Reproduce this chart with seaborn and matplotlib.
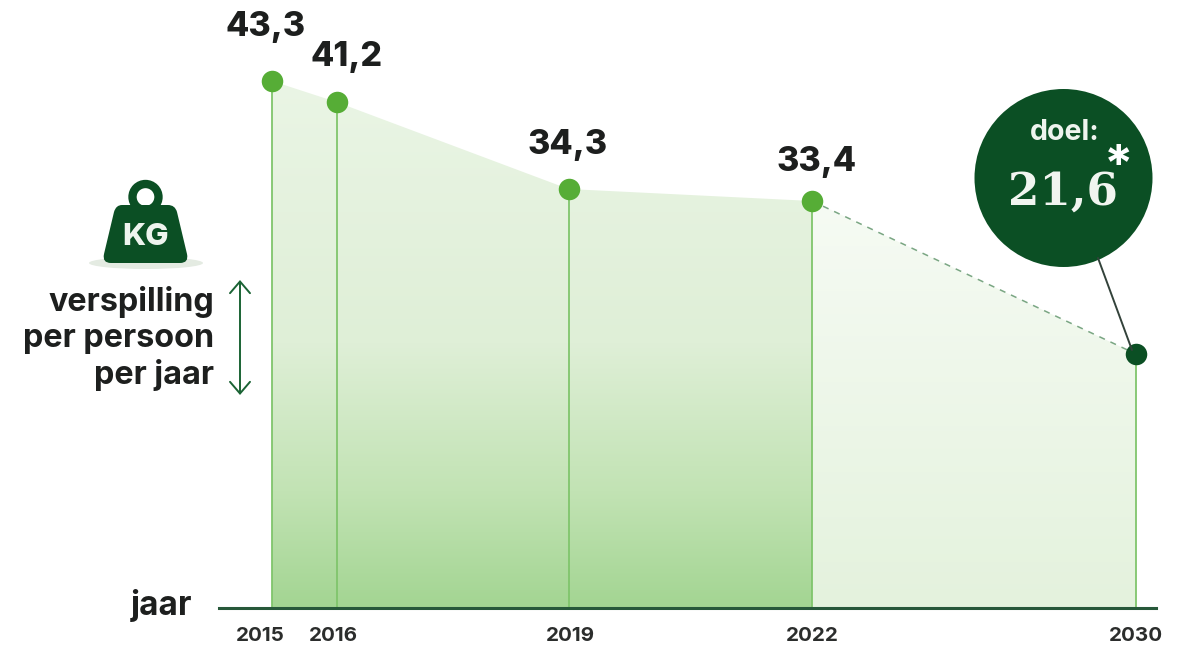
import numpy as np
import pandas as pd
import matplotlib
matplotlib.use("Agg")
import matplotlib.pyplot as plt
from matplotlib.colors import LinearSegmentedColormap
from matplotlib.patches import Polygon, Circle, Ellipse, PathPatch
from matplotlib.path import Path
from matplotlib.transforms import Affine2D
import seaborn as sns

# Food waste per person per year
years = [2015, 2016, 2019, 2022, 2030]
waste_kg = [43.3, 41.2, 34.3, 33.4, 21.6]
value_labels = ["43,3", "41,2", "34,3", "33,4"]
target_label = "21,6"

DARK = "#0b4f24"
GREEN = "#56ad36"
LINE = "#80c56c"
INK = "#1d1f1e"
FONT = "Inter"

W, H = 1187, 647
sns.set_theme(style="white")
plt.rcParams["font.family"] = [FONT, "DejaVu Sans"]

fig = plt.figure(figsize=(W / 100, H / 100), dpi=100, facecolor="white")
ax = fig.add_axes([219 / W, (H - 608) / H, (1156 - 219) / W, 608 / H])
ax.set_facecolor("none")

# The infographic is not drawn to scale: both axes use piecewise scales
x_knots = [2014, 2015, 2016, 2019, 2022, 2030, 2031]
x_pos = [0, 53, 117.5, 349.5, 593, 917, 937]
y_knots = [0, 21.6, 33.4, 34.3, 41.2, 43.3, 50]
y_pos = [0, 254, 407, 419, 506, 527, 608]


def piecewise(knots, pos):
    return (lambda v: np.interp(v, knots, pos), lambda p: np.interp(p, pos, knots))


ax.set_xscale("function", functions=piecewise(x_knots, x_pos))
ax.set_yscale("function", functions=piecewise(y_knots, y_pos))
ax.set_xlim(2014, 2031)
ax.set_ylim(0, 50)

df = pd.DataFrame({"year": years, "kg": waste_kg})
measured = df[df.year <= 2022]
projected = df[df.year >= 2022]

# Gradient-filled areas, clipped to the region under the line
solid_cmap = LinearSegmentedColormap.from_list(
    "solid", [(0, "#a3d592"), (0.22, "#c2e3b4"), (0.5, "#dfefd7"), (1, "#eaf5e5")])
pale_cmap = LinearSegmentedColormap.from_list("pale", ["#e4f2dd", "#f6fbf4"])
ramp = np.linspace(0, 1, 256).reshape(-1, 1)


def gradient_area(frame, cmap, top):
    verts = list(zip(frame.year, frame.kg)) + [(frame.year.iloc[-1], 0), (frame.year.iloc[0], 0)]
    clip = Polygon(verts, closed=True, transform=ax.transData, facecolor="none", edgecolor="none")
    ax.add_patch(clip)
    img = ax.imshow(ramp, extent=(0, 1, 0, top), origin="lower", cmap=cmap, aspect="auto",
                    transform=ax.transAxes, zorder=1, vmin=0, vmax=1)
    img.set_clip_path(clip)


gradient_area(measured, solid_cmap, 0.87)
gradient_area(projected, pale_cmap, 0.67)
ax.set_xlim(2014, 2031)
ax.set_ylim(0, 50)

ax.vlines(df.year, 0, df.kg, color=LINE, lw=1.3, zorder=2)

sns.lineplot(data=projected, x="year", y="kg", ax=ax, color="#7aa683", lw=1.1,
             linestyle=(0, (4, 4)), zorder=3, legend=False, errorbar=None)
sns.scatterplot(data=measured, x="year", y="kg", ax=ax, color=GREEN, s=240, linewidth=0,
                zorder=4, legend=False, clip_on=False)
sns.scatterplot(data=df[df.year == 2030], x="year", y="kg", ax=ax, color=DARK, s=240,
                linewidth=0, zorder=6, legend=False, clip_on=False)

# Baseline and year labels
ax.set_xlabel("")
ax.set_ylabel("")
ax.set_yticks([])
ax.set_xticks(years)
ax.set_xticklabels(years, fontsize=14.8, fontweight="bold", color="#2b2d2c")
ax.tick_params(axis="x", length=0, pad=14)
ax.minorticks_off()
tick_shift_px = [-12, -3, 2, 0, 0]
for tick, shift in zip(ax.get_xticklabels(), tick_shift_px):
    tick.set_transform(tick.get_transform() + Affine2D().translate(shift, 0))
for side in ("top", "left", "right"):
    ax.spines[side].set_visible(False)
ax.spines["bottom"].set_color("#27583a")
ax.spines["bottom"].set_linewidth(2.2)
ax.spines["bottom"].set_zorder(5)

# Value labels above each marker
label_offsets_px = [(-6, 38), (10, 29), (-1, 28), (5, 23)]
for year, kg, text, offset in zip(years, waste_kg, value_labels, label_offsets_px):
    ax.annotate(text, (year, kg), xytext=offset, textcoords="offset pixels", ha="center",
                va="bottom", fontsize=24.5, fontweight=800, color=INK)

# Annotations placed in figure pixels, origin top-left
px = Affine2D().scale(1, -1).translate(0, H)
layer = fig.add_axes([0, 0, 1, 1], zorder=10)
layer.set_axis_off()
layer.patch.set_alpha(0)


def put(patch):
    patch.set_transform(px)
    patch.set_clip_on(False)
    layer.add_patch(patch)


def label(x, y, s, **kw):
    layer.text(x, y, s, transform=px, **kw)


# Target bubble with leader line
layer.plot([1098, 1132], [258, 350], transform=px, color="#33423a", lw=1.4, clip_on=False)
put(Circle((1063.5, 178), 89, facecolor=DARK, edgecolor="none"))
label(1065, 132, "doel:", ha="center", va="center", fontsize=20.5, fontweight="bold", color="#eef4ee")
label(1063, 192, target_label, ha="center", va="center", fontsize=32.5, fontweight="bold",
      color="#f1f5f0", family=["DejaVu Serif"])
label(1119, 144, "*", ha="center", va="top", fontsize=38, fontweight="bold", color="white")

# Weight icon
put(Ellipse((146, 263), 114, 12, facecolor="#e4ebe2", edgecolor="none"))
put(Circle((145.5, 197), 13, facecolor="none", edgecolor=DARK, lw=6))
body = Path([(122, 205), (168, 205), (175, 205), (177, 212), (187, 254), (189, 263), (180, 263),
             (111, 263), (102, 263), (104, 254), (114, 212), (116, 205), (122, 205)],
            [Path.MOVETO, Path.LINETO, Path.CURVE3, Path.CURVE3, Path.LINETO, Path.CURVE3, Path.CURVE3,
             Path.LINETO, Path.CURVE3, Path.CURVE3, Path.LINETO, Path.CURVE3, Path.CURVE3])
put(PathPatch(body, facecolor=DARK, edgecolor="none"))
label(146, 237, "KG", ha="center", va="center", fontsize=22.5, fontweight=800, color="#eef4ee")

# Axis captions
label(214, 302, "verspilling", ha="right", va="center", fontsize=23.3, fontweight="bold", color=INK)
label(214, 338, "per persoon", ha="right", va="center", fontsize=23.3, fontweight="bold", color=INK)
label(214, 375, "per jaar", ha="right", va="center", fontsize=23.3, fontweight="bold", color=INK)
label(192, 606, "jaar", ha="right", va="center", fontsize=24, fontweight="bold", color=INK)

# Double-headed arrow beside the caption
layer.annotate("", xy=(240, 280), xytext=(240, 395), xycoords=px, textcoords=px,
               arrowprops=dict(arrowstyle="<->,head_length=0.7,head_width=0.6", color="#1a6334", lw=1.4,
                               shrinkA=0, shrinkB=0))
layer.set_xlim(0, W)
layer.set_ylim(0, H)

fig.savefig("out.png", dpi=100, facecolor="white")
